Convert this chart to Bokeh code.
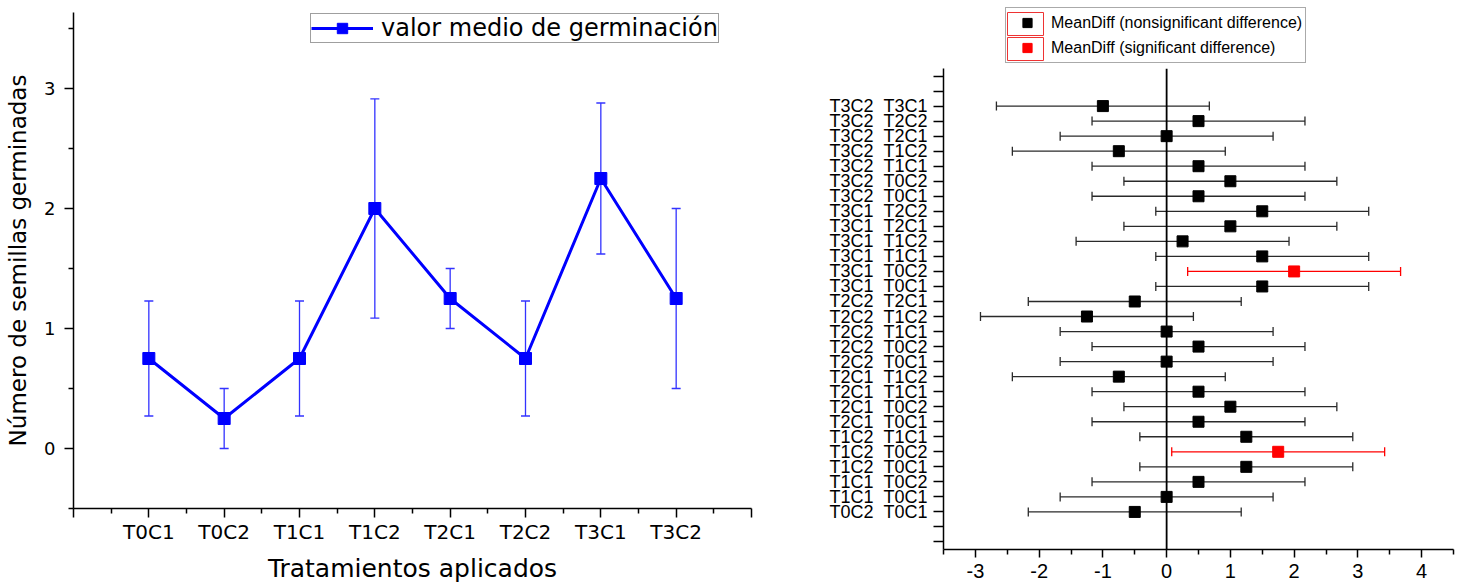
from bokeh.plotting import figure
from bokeh.models import (ColumnDataSource, Range1d, FixedTicker, Legend, LegendItem,
                          Whisker, TeeHead, Span)
from bokeh.layouts import row, column
from bokeh.embed import file_html
from bokeh.resources import INLINE

# ---------------- data: left chart ----------------
treatments = ["T0C1", "T0C2", "T1C1", "T1C2", "T2C1", "T2C2", "T3C1", "T3C2"]
germ_mean = [0.75, 0.25, 0.75, 2.0, 1.25, 0.75, 2.25, 1.25]
germ_err = [0.479, 0.25, 0.479, 0.913, 0.25, 0.479, 0.629, 0.75]

# ---------------- data: right chart (top to bottom) ----------------
pairs = ["T3C2  T3C1", "T3C2  T2C2", "T3C2  T2C1", "T3C2  T1C2", "T3C2  T1C1", "T3C2  T0C2",
         "T3C2  T0C1", "T3C1  T2C2", "T3C1  T2C1", "T3C1  T1C2", "T3C1  T1C1", "T3C1  T0C2",
         "T3C1  T0C1", "T2C2  T2C1", "T2C2  T1C2", "T2C2  T1C1", "T2C2  T0C2", "T2C2  T0C1",
         "T2C1  T1C2", "T2C1  T1C1", "T2C1  T0C2", "T2C1  T0C1", "T1C2  T1C1", "T1C2  T0C2",
         "T1C2  T0C1", "T1C1  T0C2", "T1C1  T0C1", "T0C2  T0C1"]
mean_diff = [-1.0, 0.5, 0.0, -0.75, 0.5, 1.0, 0.5, 1.5, 1.0, 0.25, 1.5, 2.0, 1.5, -0.5,
             -1.25, 0.0, 0.5, 0.0, -0.75, 0.5, 1.0, 0.5, 1.25, 1.75, 1.25, 0.5, 0.0, -0.5]
ci_low = [-2.67, -1.17, -1.67, -2.42, -1.17, -0.67, -1.17, -0.17, -0.67, -1.42, -0.17, 0.33,
          -0.17, -2.17, -2.92, -1.67, -1.17, -1.67, -2.42, -1.17, -0.67, -1.17, -0.42, 0.08,
          -0.42, -1.17, -1.67, -2.17]
ci_high = [0.67, 2.17, 1.67, 0.92, 2.17, 2.67, 2.17, 3.17, 2.67, 1.92, 3.17, 3.67, 3.17, 1.17,
           0.42, 1.67, 2.17, 1.67, 0.92, 2.17, 2.67, 2.17, 2.92, 3.42, 2.92, 2.17, 1.67, 1.17]
significant = [False] * 11 + [True] + [False] * 11 + [True] + [False] * 4
x_tick_labels = {-3: "-3", -2: "-2", -1: "-1", 0: "0", 1: "1", 2: "2", 3: "3", 4: "4"}

LFONT = "DejaVu Sans"
RFONT = "Liberation Sans"

# ================= LEFT FIGURE =================
xs = [i + 1 for i in range(len(treatments))]
src = ColumnDataSource(dict(x=xs, y=germ_mean,
                            lo=[m - e for m, e in zip(germ_mean, germ_err)],
                            hi=[m + e for m, e in zip(germ_mean, germ_err)]))

# frame from y=12 px to 508 px; 120 px per unit, so top of range a bit above 3.5
p1 = figure(width=790, height=585, x_range=Range1d(0, 9), y_range=Range1d(-0.5, 3.5 + 16 / 120),
            output_backend="svg", toolbar_location=None,
            min_border_left=73, min_border_right=39, min_border_top=12, min_border_bottom=77)
p1.frame_align = False
p1.outline_line_color = None
p1.grid.visible = False
p1.background_fill_color = "white"
p1.border_fill_color = "white"

wl = Whisker(source=src, base="x", lower="lo", upper="hi", dimension="height",
             line_color="#3333ff", line_width=1.3, level="underlay",
             upper_head=TeeHead(size=9, line_color="#3333ff", line_width=1.3),
             lower_head=TeeHead(size=9, line_color="#3333ff", line_width=1.3))
p1.add_layout(wl)
lr = p1.line("x", "y", source=src, line_color="blue", line_width=3)
sr = p1.scatter("x", "y", source=src, marker="square", size=12, color="blue")

p1.xaxis.ticker = FixedTicker(ticks=list(range(0, 10)), minor_ticks=[i + 0.5 for i in range(9)])
p1.xaxis.major_label_overrides = {0: "", 9: "", **{i + 1: t for i, t in enumerate(treatments)}}
p1.yaxis.ticker = FixedTicker(ticks=[0, 1, 2, 3], minor_ticks=[-0.5, 0.5, 1.5, 2.5, 3.5])
for ax in (p1.xaxis[0], p1.yaxis[0]):
    ax.axis_line_color = "black"
    ax.axis_line_width = 1.5
    ax.major_tick_line_color = "black"
    ax.minor_tick_line_color = "black"
    ax.major_tick_line_width = 1.5
    ax.minor_tick_line_width = 1.5
    ax.major_tick_in = 0
    ax.minor_tick_in = 0
    ax.major_tick_out = 9
    ax.minor_tick_out = 5
    ax.major_label_text_color = "black"
    ax.major_label_text_font = LFONT
    ax.axis_label_text_font = LFONT
    ax.axis_label_text_font_style = "normal"
    ax.axis_label_text_color = "black"
p1.xaxis.major_label_standoff = 2
p1.yaxis.major_label_standoff = 9
p1.xaxis.major_label_text_font_size = "20px"
p1.yaxis.major_label_text_font_size = "18px"
p1.xaxis.axis_label = "Tratamientos aplicados"
p1.xaxis.axis_label_text_font_size = "25px"
p1.xaxis.axis_label_standoff = 7
p1.yaxis.axis_label = "Número de semillas germinadas"
p1.yaxis.axis_label_text_font_size = "23px"
p1.yaxis.axis_label_standoff = 10

leg1 = Legend(items=[LegendItem(label="valor medio de germinación", renderers=[lr, sr])],
              location=(237, 465), margin=0, padding=0, spacing=0,
              glyph_width=62, glyph_height=26, label_height=26, label_standoff=8,
              label_text_font=LFONT, label_text_font_size="24px", label_text_color="black",
              border_line_color="#404040", border_line_width=1.2,
              background_fill_color="white", background_fill_alpha=1)
p1.add_layout(leg1)

# ================= RIGHT FIGURE =================
n = len(pairs)
ypos = [n - i for i in range(n)]

def subset(flag):
    idx = [i for i in range(n) if significant[i] == flag]
    return ColumnDataSource(dict(y=[ypos[i] for i in idx], m=[mean_diff[i] for i in idx],
                                 lo=[ci_low[i] for i in idx], hi=[ci_high[i] for i in idx]))

src_ns = subset(False)
src_s = subset(True)

p2 = figure(width=673, height=517, x_range=Range1d(-3.5, 4.5), y_range=Range1d(-1.5, 30.5),
            output_backend="svg", toolbar_location=None,
            min_border_left=153, min_border_right=10, min_border_top=0, min_border_bottom=36)
p2.frame_align = False
p2.outline_line_color = None
p2.grid.visible = False
p2.background_fill_color = "white"
p2.border_fill_color = "white"

for s, col in ((src_ns, "#2a2a2a"), (src_s, "red")):
    w = Whisker(source=s, base="y", lower="lo", upper="hi", dimension="width",
                line_color=col, line_width=1.3, level="underlay",
                upper_head=TeeHead(size=9, line_color=col, line_width=1.3),
                lower_head=TeeHead(size=9, line_color=col, line_width=1.3))
    p2.add_layout(w)

p2.add_layout(Span(location=0, dimension="height", line_color="black", line_width=1.8))
r_ns = p2.scatter("m", "y", source=src_ns, marker="square", size=11, color="black")
r_s = p2.scatter("m", "y", source=src_s, marker="square", size=11, color="red")

p2.xaxis.ticker = FixedTicker(ticks=list(x_tick_labels.keys()),
                              minor_ticks=[k + 0.5 for k in range(-4, 5)])
p2.xaxis.major_label_overrides = dict(x_tick_labels)
p2.yaxis.ticker = FixedTicker(ticks=list(range(-1, 31)), minor_ticks=[])
ylab = {k: "" for k in range(-1, 31)}
for i, lab in enumerate(pairs):
    ylab[ypos[i]] = lab.replace(" ", "\u00a0")
p2.yaxis.major_label_overrides = ylab
for ax in (p2.xaxis[0], p2.yaxis[0]):
    ax.axis_line_color = "black"
    ax.axis_line_width = 1.5
    ax.major_tick_line_color = "black"
    ax.minor_tick_line_color = "black"
    ax.major_tick_line_width = 1.5
    ax.minor_tick_line_width = 1.5
    ax.major_tick_in = 0
    ax.minor_tick_in = 0
    ax.major_label_text_color = "black"
    ax.major_label_text_font = RFONT
p2.xaxis.major_tick_out = 8
p2.xaxis.minor_tick_out = 5
p2.xaxis.major_label_standoff = 6
p2.xaxis.major_label_text_font_size = "20px"
p2.yaxis.major_tick_out = 10
p2.yaxis.major_label_standoff = 6
p2.yaxis.major_label_text_font_size = "18px"

# legend strip above the right chart (1 data unit = 1 screen pixel)
pl = figure(width=673, height=68, x_range=Range1d(0, 510), y_range=Range1d(0, 68),
            output_backend="svg", toolbar_location=None,
            x_axis_location=None, y_axis_location=None,
            min_border_left=153, min_border_right=10, min_border_top=0, min_border_bottom=0)
pl.frame_align = False
pl.outline_line_color = None
pl.grid.visible = False
pl.border_fill_color = "white"
pl.background_fill_color = "white"
# red frames around the legend symbols (legend decoration)
pl.rect(x=[82, 82], y=[44.5, 19.5], width=36, height=23, fill_color=None,
        line_color="#ee3333", line_width=1)
# legend proxies, kept outside the visible area
lg_ns = pl.scatter(x=[-100], y=[-100], marker="square", size=11, color="black")
lg_s = pl.scatter(x=[-100], y=[-100], marker="square", size=11, color="red")

leg2 = Legend(items=[LegendItem(label="MeanDiff (nonsignificant difference)", renderers=[lg_ns]),
                     LegendItem(label="MeanDiff (significant difference)", renderers=[lg_s])],
              location=(62, 5), margin=0, padding=3, spacing=2,
              glyph_width=36, glyph_height=23, label_height=23, label_standoff=6,
              label_text_font=RFONT, label_text_font_size="16px", label_text_color="black",
              border_line_color="#555555", border_line_width=1.2,
              background_fill_alpha=0)
pl.add_layout(leg2)

layout = row(p1, column(pl, p2, spacing=0), spacing=0)
open("out.html", "w").write(file_html(layout, INLINE))
